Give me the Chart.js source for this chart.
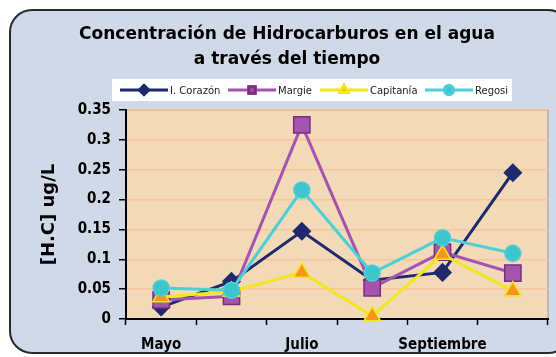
<!DOCTYPE html>
<html>
<head>
<meta charset="utf-8">
<script src="https://cdn.jsdelivr.net/npm/chart.js@4/dist/chart.umd.min.js"></script>
<style>
  html, body { margin: 0; padding: 0; background: #ffffff; }
  #wrap { width: 556px; height: 357px; }
</style>
</head>
<body>
<div id="wrap"><canvas id="hcChart" width="556" height="357"></canvas></div>
<script>
    // datos
    const meses = ['Mayo', 'Junio', 'Julio', 'Agosto', 'Septiembre', 'Octubre'];
    const corazon = [0.02, 0.063, 0.147, 0.065, 0.078, 0.245];
    const margie = [0.032, 0.038, 0.325, 0.052, 0.112, 0.077];
    const capitania = [0.037, 0.046, 0.078, 0.005, 0.108, 0.047];
    const regosi = [0.052, 0.048, 0.216, 0.077, 0.136, 0.11];
    const yTicks = [0, 0.05, 0.1, 0.15, 0.2, 0.25, 0.3, 0.35];

    const tituloLineas = ['Concentración de Hidrocarburos en el agua', 'a través del tiempo'];

    const series = [
        { label: 'I. Corazón', data: corazon, line: '#1f2a6e', fill: '#1f2a6e', edge: '#1f2a6e', style: 'rectRot', r: 8.5, order: 4 },
        { label: 'Margie', data: margie, line: '#a454ad', fill: '#a454ad', edge: '#7a2f7e', style: 'rect', r: 11.5, order: 3 },
        { label: 'Capitanía', data: capitania, line: '#f2e61c', fill: '#f7941d', edge: '#f2e61c', style: 'triangle', r: 9.5, order: 2 },
        { label: 'Regosi', data: regosi, line: '#4ccfd6', fill: '#3cc6cc', edge: '#4ccfd6', style: 'circle', r: 8, order: 1 }
    ];

    // fondo, marco redondeado, titulo y leyenda
    const decoPlugin = {
        id: 'deco',
        beforeDraw(chart) {
            const ctx = chart.ctx;
            const a = chart.chartArea;
            ctx.save();
            ctx.fillStyle = '#ffffff';
            ctx.fillRect(0, 0, chart.width, chart.height);
            ctx.beginPath();
            ctx.roundRect(10, 10, 560, 343, 22);
            ctx.fillStyle = '#cfd9e7';
            ctx.fill();
            ctx.lineWidth = 2;
            ctx.strokeStyle = '#2a2a2a';
            ctx.stroke();
            // area del grafico
            ctx.fillStyle = '#f2d9b8';
            ctx.fillRect(a.left, a.top, a.right - a.left, a.bottom - a.top);
            ctx.strokeStyle = '#9a9a9a';
            ctx.lineWidth = 1;
            ctx.strokeRect(a.left, a.top, a.right - a.left, a.bottom - a.top);

            // titulo
            ctx.fillStyle = '#000000';
            ctx.font = 'bold 17px "DejaVu Sans"';
            ctx.textAlign = 'center';
            ctx.textBaseline = 'middle';
            ctx.fillText(tituloLineas[0], 287, 35);
            ctx.fillText(tituloLineas[1], 287, 60);

            // leyenda
            ctx.fillStyle = '#ffffff';
            ctx.fillRect(112, 79, 400, 22);
            const xs = [120, 228, 320, 425];
            ctx.font = '10px "DejaVu Sans"';
            ctx.textAlign = 'left';
            series.forEach((s, i) => {
                const x0 = xs[i];
                const y0 = 90;
                ctx.strokeStyle = s.line;
                ctx.lineWidth = 3;
                ctx.beginPath();
                ctx.moveTo(x0, y0);
                ctx.lineTo(x0 + 48, y0);
                ctx.stroke();
                Chart.helpers.drawPoint(ctx, { pointStyle: s.style, radius: 4.5, borderWidth: 1 }, x0 + 24, y0);
                ctx.fillStyle = s.fill;
                ctx.strokeStyle = s.edge;
                ctx.fill();
                ctx.stroke();
                ctx.fillStyle = '#222222';
                ctx.fillText(s.label, x0 + 50, y0 + 1);
            });
            ctx.restore();
        }
    };

    const ctx = document.getElementById('hcChart').getContext('2d');
    const hcChart = new Chart(ctx, {
        type: 'line',
        data: {
            labels: meses,
            datasets: series.map(s => ({
                label: s.label,
                data: s.data,
                borderColor: s.line,
                borderWidth: 3,
                backgroundColor: s.fill,
                pointStyle: s.style,
                pointRadius: s.r,
                pointBackgroundColor: s.fill,
                pointBorderColor: s.edge,
                pointBorderWidth: 1.5,
                tension: 0,
                clip: false,
                order: s.order
            }))
        },
        options: {
            responsive: false,
            animation: false,
            devicePixelRatio: 1,
            layout: { autoPadding: false, padding: { top: 110, left: 24, right: 8, bottom: 0 } },
            plugins: {
                legend: { display: false },
                title: { display: false },
                tooltip: { enabled: false }
            },
            scales: {
                x: {
                    offset: true,
                    grid: {
                        offset: true,
                        drawOnChartArea: false,
                        tickColor: '#000000',
                        tickLength: 6,
                        tickWidth: 1.5
                    },
                    border: { color: '#000000', width: 2 },
                    ticks: {
                        autoSkip: false,
                        maxRotation: 0,
                        padding: 11,
                        color: '#000000',
                        font: { family: 'DejaVu Sans Condensed', weight: 'bold', size: 15 },
                        callback: function (value, index) {
                            return index % 2 === 0 ? meses[index] : '';
                        }
                    },
                    afterFit(scale) {
                        scale.height = 38;
                        scale.paddingLeft = 0;
                        scale.paddingRight = 0;
                    }
                },
                y: {
                    min: 0,
                    max: 0.35,
                    afterBuildTicks(scale) {
                        scale.ticks = yTicks.map(v => ({ value: v }));
                    },
                    grid: {
                        color: '#f9c49c',
                        lineWidth: 1.5,
                        tickColor: '#000000',
                        tickLength: 7
                    },
                    border: { color: '#000000', width: 2 },
                    ticks: {
                        padding: 8,
                        color: '#000000',
                        font: { family: 'DejaVu Sans Condensed', weight: 'bold', size: 15 },
                        callback: function (value) {
                            return String(Math.round(value * 100) / 100);
                        }
                    },
                    title: {
                        display: true,
                        text: '[H.C] ug/L',
                        color: '#000000',
                        padding: { top: 15, bottom: 0 },
                        font: { family: 'DejaVu Sans', weight: 'bold', size: 18 }
                    },
                    afterFit(scale) { scale.width = 102; }
                }
            }
        },
        plugins: [decoPlugin]
    });
</script>
</body>
</html>
